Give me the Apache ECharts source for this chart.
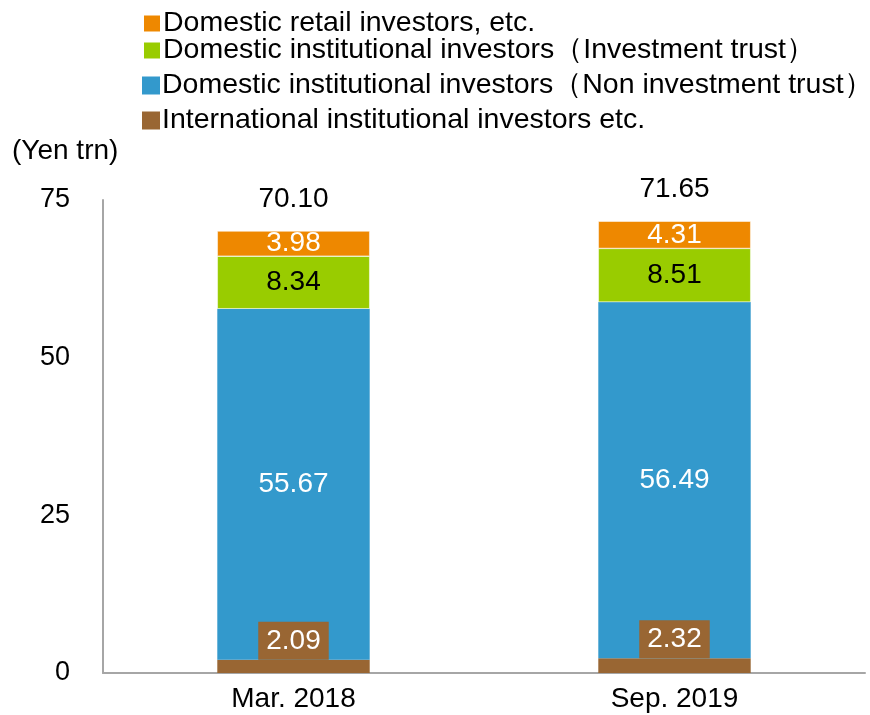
<!DOCTYPE html>
<html>
<head>
<meta charset="utf-8">
<script src="https://cdn.jsdelivr.net/npm/echarts@6/dist/echarts.min.js"></script>
<style>
  html, body { margin: 0; padding: 0; background: #fff; }
  #chart { width: 870px; height: 715px; }
</style>
</head>
<body>
<div id="chart"></div>
<script>
// data
var categories = ["Mar. 2018", "Sep. 2019"];
var international = [2.09, 2.32];
var nonInvTrust = [55.67, 56.49];
var invTrust = [8.34, 8.51];
var retail = [3.98, 4.31];
var totals = [70.10, 71.65];
var yTicks = [0, 25, 50, 75];

var names = [
  "Domestic retail investors, etc.",
  "Domestic institutional investors（Investment trust）",
  "Domestic institutional investors（Non investment trust）",
  "International institutional investors etc."
];
var colors = ["#EE8800", "#99CC00", "#3399CC", "#996633"];
var FONT = "Liberation Sans, Arial, sans-serif";

function legendAt(i, top) {
  return {
    data: [names[i]],
    left: 137,
    top: top,
    orient: "vertical",
    itemWidth: 18,
    itemHeight: 18,
    itemGap: 0,
    icon: "rect",
    textStyle: { fontSize: 28.5, color: "#000", fontFamily: FONT, padding: [0, 0, 0, -3] }
  };
}

var chart = echarts.init(document.getElementById("chart"));
var option = {
  animation: false,
  textStyle: { fontFamily: FONT },
  legend: [legendAt(0, 4), legendAt(1, 31), legendAt(2, 66), legendAt(3, 101)],
  graphic: [{
    type: "text", left: 12, top: 137,
    style: { text: "(Yen trn)", fill: "#000", font: "28px " + FONT }
  }],
  grid: { left: 103, right: 5, top: 200, bottom: 42, containLabel: false },
  xAxis: {
    type: "category",
    data: categories,
    axisLine: { lineStyle: { color: "#a6a6a6", width: 2 } },
    axisTick: { show: false },
    axisLabel: { fontSize: 28, color: "#000", margin: 12 }
  },
  yAxis: {
    type: "value",
    min: yTicks[0],
    max: yTicks[yTicks.length - 1],
    interval: 25,
    splitLine: { show: false },
    axisLine: { show: true, lineStyle: { color: "#a6a6a6", width: 2 } },
    axisTick: { show: false },
    axisLabel: { fontSize: 27, color: "#000", margin: 33 }
  },
  series: [
    {
      name: names[3], type: "bar", stack: "s", data: international, barWidth: "40%",
      itemStyle: { color: colors[3] },
      label: {
        show: true, position: "top", distance: 0, color: "#fff", fontSize: 28, lineHeight: 30,
        backgroundColor: colors[3], padding: [4, 8, 4, 8],
        formatter: function (p) { return p.value.toFixed(2); }
      }
    },
    {
      name: names[2], type: "bar", stack: "s", data: nonInvTrust,
      itemStyle: { color: colors[2] },
      label: { show: true, position: "inside", color: "#fff", fontSize: 28,
        formatter: function (p) { return p.value.toFixed(2); } }
    },
    {
      name: names[1], type: "bar", stack: "s", data: invTrust,
      itemStyle: { color: colors[1], borderColor: "#fff", borderWidth: 0.5 },
      label: { show: true, position: "inside", color: "#000", fontSize: 28,
        formatter: function (p) { return p.value.toFixed(2); } }
    },
    {
      name: names[0], type: "bar", stack: "s", data: retail,
      itemStyle: { color: colors[0], borderColor: "#fff", borderWidth: 0.5 },
      label: { show: true, position: "inside", color: "#fff", fontSize: 28,
        formatter: function (p) { return p.value.toFixed(2); } }
    },
    {
      name: "total", type: "bar", stack: "s", data: [0, 0],
      itemStyle: { color: "transparent" },
      label: { show: true, position: "top", distance: 18, color: "#000", fontSize: 28,
        formatter: function (p) { return totals[p.dataIndex].toFixed(2); } }
    }
  ]
};
chart.setOption(option);
</script>
</body>
</html>
